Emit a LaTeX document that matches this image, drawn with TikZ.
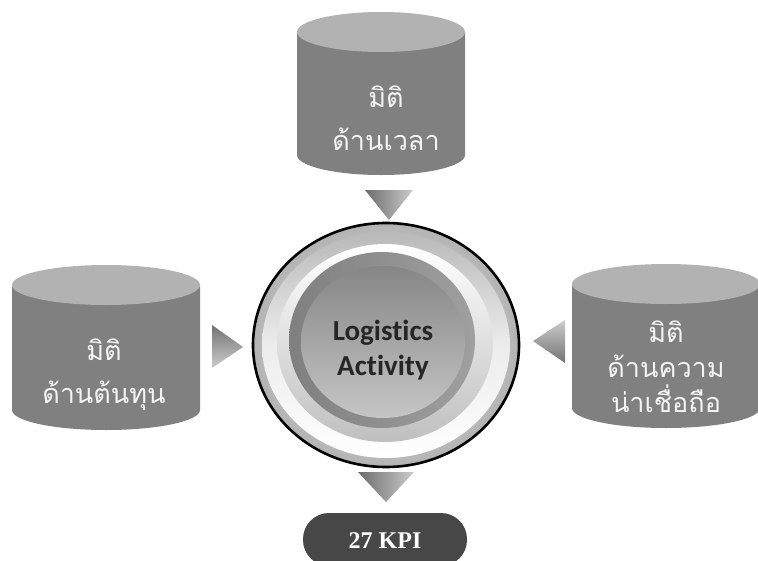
\documentclass[tikz,border=0pt]{standalone}
\usepackage{fontspec}
\newfontfamily\thaifont[Script=Thai]{Loma}
\newfontfamily\calfont[RawFeature=-liga]{Carlito}
\newfontfamily\kpifont{Liberation Serif}
\usetikzlibrary{shapes.geometric}
\definecolor{cylbody}{HTML}{808080}
\definecolor{cyltop}{HTML}{B2B2B2}
\definecolor{cyltext}{HTML}{F4F4F4}
\definecolor{pillgray}{HTML}{474747}
\tikzset{
  cyllabel/.style={align=center,text=cyltext,font=\thaifont\fontsize{27}{43}\selectfont},
}
\newcommand\mycyl[5]{%
  \fill[cylbody] (#1,#3) -- (#1,#4) arc[start angle=180,end angle=0,x radius={(#2-#1)/2},y radius=#5] -- (#2,#3) -- cycle;
  \fill[cyltop] ({(#1+#2)/2},#3) ellipse[x radius={(#2-#1)/2},y radius=#5];
}
\begin{document}
\begin{tikzpicture}[x=1pt,y=-1pt]
\useasboundingbox (0,0) rectangle (758,560);
\begin{scope}
\clip (0,0) rectangle (758,560);
% cylinders
\mycyl{297}{465}{32}{155}{20}
\mycyl{12}{200}{285}{410}{20}
\mycyl{572}{760}{284}{408}{20}
% triangles
\shade[left color=gray!85!black, right color=gray!40] (365,190) -- (413,190) -- (389,220) -- cycle;
\shade[top color=gray!90!black, bottom color=gray!40] (212,325) -- (243,347) -- (212,368) -- cycle;
\shade[top color=gray!40, bottom color=gray!90!black] (565,320) -- (533,341) -- (565,363) -- cycle;
\shade[left color=gray!85!black, right color=gray!40] (358,472) -- (414,472) -- (386,502) -- cycle;
% center disc
\shade[outer color=gray!60, inner color=white, draw=black, line width=2.6pt] (386,345) ellipse[x radius=133,y radius=122];
\shade[shading angle=200, top color=gray!55, bottom color=white, middle color=gray!15] (386,345) ellipse[x radius=124,y radius=113];
\shade[shading angle=200, top color=white, bottom color=gray!50] (385,343) ellipse[x radius=108,y radius=99];
\shade[shading angle=45, left color=gray!100!black, right color=gray!75] (382,340) ellipse[x radius=93,y radius=88];
\shade[shading angle=45, top color=gray!95, bottom color=gray!45] (383,342) ellipse[x radius=82,y radius=76];
% pill
\fill[pillgray, rounded corners=26pt] (303,513) rectangle (467,566);
\end{scope}
\node[cyllabel] (time) at (386,118) {มิติ\\ด้านเวลา};
\node[cyllabel] (cost) at (104,375) {มิติ\\ด้านต้นทุน};
\node[cyllabel, font=\thaifont\fontsize{27}{35}\selectfont] (rel) at (666,367) {มิติ\\ด้านความ\\น่าเชื่อถือ};
\node[align=center, font=\calfont\bfseries\fontsize{29}{35}\selectfont, text=black!85] (act) at (383,350) {Logistics\\Activity};
\node[font=\kpifont\bfseries\fontsize{24}{26}\selectfont, text=white] (kpi) at (385,541) {27 KPI};
\end{tikzpicture}
\end{document}
